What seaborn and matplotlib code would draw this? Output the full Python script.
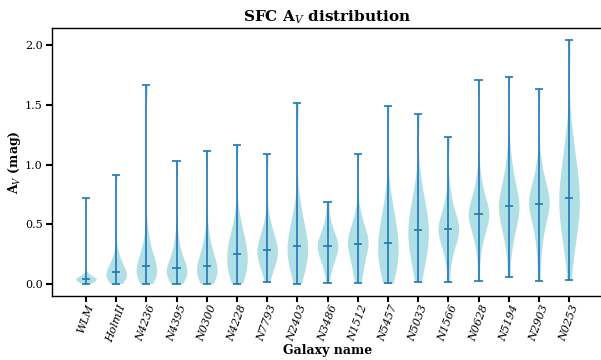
import numpy as np
import pandas as pd
import matplotlib
matplotlib.use("Agg")
import matplotlib.pyplot as plt
import seaborn as sns

# Galaxies, ordered by median extinction
galaxies = ["WLM", "HolmII", "N4236", "N4395", "N0300", "N4228", "N7793", "N2403",
            "N3486", "N1512", "N5457", "N5033", "N1566", "N0628", "N5194", "N2903", "N0253"]

# A_V of the star-forming clumps in each galaxy (min, 5%..95% quantiles, max)
av_wlm = [0.0, 0.006, 0.011, 0.016, 0.020, 0.024, 0.028, 0.031, 0.034, 0.037, 0.039,
          0.042, 0.045, 0.049, 0.053, 0.057, 0.062, 0.068, 0.075, 0.09, 0.719]
av_holmii = [0.0, 0.015, 0.025, 0.035, 0.045, 0.053, 0.06, 0.068, 0.077, 0.087, 0.098,
             0.108, 0.12, 0.132, 0.146, 0.162, 0.18, 0.2, 0.23, 0.28, 0.912]
av_n4236 = [0.0, 0.02, 0.035, 0.05, 0.063, 0.075, 0.088, 0.10, 0.115, 0.13, 0.148,
            0.165, 0.183, 0.20, 0.22, 0.245, 0.275, 0.31, 0.36, 0.45, 1.664]
av_n4395 = [0.0, 0.02, 0.035, 0.048, 0.06, 0.072, 0.084, 0.096, 0.108, 0.12, 0.134,
            0.148, 0.163, 0.18, 0.20, 0.225, 0.255, 0.29, 0.34, 0.43, 1.026]
av_n0300 = [0.0, 0.02, 0.035, 0.05, 0.064, 0.077, 0.09, 0.104, 0.119, 0.135, 0.151,
            0.168, 0.186, 0.205, 0.228, 0.255, 0.285, 0.32, 0.37, 0.46, 1.110]
av_n4228 = [0.0, 0.03, 0.055, 0.08, 0.105, 0.13, 0.155, 0.18, 0.205, 0.225, 0.246,
            0.268, 0.29, 0.315, 0.34, 0.37, 0.405, 0.445, 0.50, 0.58, 1.161]
av_n7793 = [0.011, 0.08, 0.12, 0.15, 0.175, 0.197, 0.217, 0.235, 0.25, 0.266, 0.283,
            0.30, 0.318, 0.337, 0.358, 0.382, 0.41, 0.445, 0.49, 0.56, 1.088]
av_n2403 = [0.0, 0.06, 0.10, 0.135, 0.165, 0.195, 0.222, 0.248, 0.272, 0.295, 0.319,
            0.343, 0.368, 0.395, 0.425, 0.46, 0.50, 0.55, 0.61, 0.70, 1.516]
av_n3486 = [0.006, 0.10, 0.145, 0.18, 0.208, 0.232, 0.253, 0.272, 0.288, 0.30, 0.313,
            0.326, 0.34, 0.356, 0.374, 0.395, 0.42, 0.45, 0.49, 0.55, 0.686]
av_n1512 = [0.008, 0.06, 0.10, 0.14, 0.18, 0.22, 0.255, 0.28, 0.30, 0.318, 0.336,
            0.352, 0.368, 0.385, 0.405, 0.428, 0.455, 0.49, 0.54, 0.62, 1.091]
av_n5457 = [0.003, 0.05, 0.09, 0.125, 0.16, 0.19, 0.22, 0.25, 0.28, 0.31, 0.338,
            0.367, 0.397, 0.43, 0.465, 0.505, 0.55, 0.60, 0.67, 0.78, 1.488]
av_n5033 = [0.014, 0.10, 0.16, 0.21, 0.25, 0.29, 0.325, 0.36, 0.392, 0.42, 0.447,
            0.475, 0.505, 0.537, 0.572, 0.61, 0.655, 0.71, 0.78, 0.88, 1.421]
av_n1566 = [0.011, 0.17, 0.24, 0.29, 0.33, 0.36, 0.385, 0.408, 0.425, 0.442, 0.459,
            0.476, 0.494, 0.514, 0.536, 0.562, 0.594, 0.635, 0.69, 0.78, 1.228]
av_n0628 = [0.022, 0.25, 0.34, 0.40, 0.44, 0.475, 0.505, 0.53, 0.552, 0.567, 0.582,
            0.598, 0.615, 0.635, 0.66, 0.69, 0.725, 0.77, 0.83, 0.93, 1.706]
av_n5194 = [0.053, 0.28, 0.37, 0.43, 0.48, 0.52, 0.555, 0.587, 0.612, 0.632, 0.652,
            0.673, 0.697, 0.725, 0.757, 0.795, 0.84, 0.90, 0.98, 1.10, 1.732]
av_n2903 = [0.025, 0.23, 0.34, 0.42, 0.48, 0.53, 0.57, 0.605, 0.63, 0.65, 0.669,
            0.688, 0.708, 0.73, 0.755, 0.785, 0.82, 0.865, 0.93, 1.03, 1.634]
av_n0253 = [0.028, 0.24, 0.33, 0.40, 0.46, 0.51, 0.56, 0.60, 0.64, 0.68, 0.716,
            0.755, 0.795, 0.84, 0.89, 0.945, 1.01, 1.08, 1.17, 1.30, 2.042]

av_values = [av_wlm, av_holmii, av_n4236, av_n4395, av_n0300, av_n4228, av_n7793,
             av_n2403, av_n3486, av_n1512, av_n5457, av_n5033, av_n1566, av_n0628,
             av_n5194, av_n2903, av_n0253]

df = pd.DataFrame({
    "galaxy": np.repeat(galaxies, [len(v) for v in av_values]),
    "av": np.concatenate(av_values),
})

fill_color = "#b0dfe5"
line_color = "#1f77b4"


def robust_bw(kde):
    """Silverman's rule with the IQR guard, so the long tails do not inflate the kernel."""
    d = np.asarray(kde.dataset).ravel()
    std = d.std(ddof=1)
    q75, q25 = np.percentile(d, [75, 25])
    sigma = min(std, (q75 - q25) / 1.349)
    return 0.9 * sigma * len(d) ** (-0.2) / std


sns.set_style("ticks")
plt.rcParams["font.family"] = ["DejaVu Serif"]
plt.rcParams["mathtext.fontset"] = "dejavuserif"
for key in ("text.color", "axes.labelcolor", "xtick.color", "ytick.color", "axes.edgecolor"):
    plt.rcParams[key] = "black"

fig = plt.figure(figsize=(6.01, 3.60), dpi=100)
ax = fig.add_axes([0.087, 0.1786, 0.916, 0.7428])

sns.violinplot(data=df, x="galaxy", y="av", order=galaxies, ax=ax,
               inner=None, cut=0, density_norm="width", width=0.68,
               bw_method=robust_bw, bw_adjust=1.25,
               color=fill_color, saturation=1, linewidth=0)

# extrema and median markers
pos = np.arange(len(galaxies))
mins = np.array([np.min(v) for v in av_values])
maxs = np.array([np.max(v) for v in av_values])
meds = np.array([np.median(v) for v in av_values])
cap = 0.135
lw = 1.2
ax.vlines(pos, mins, maxs, color=line_color, lw=lw)
for y in (mins, maxs, meds):
    ax.hlines(y, pos - cap, pos + cap, color=line_color, lw=lw)

ax.set_xlim(-1.116, 17.116)
ax.set_ylim(-0.102, 2.144)
ax.set_yticks([0.0, 0.5, 1.0, 1.5, 2.0])
ax.set_yticklabels(["0.0", "0.5", "1.0", "1.5", "2.0"], fontsize=8)
ax.set_xticks(pos)
ax.set_xticklabels(galaxies, rotation=70, ha="center", fontsize=8, style="italic")
ax.tick_params(axis="both", direction="out", length=4, width=1.5, color="black", pad=3)
ax.tick_params(axis="x", pad=1.5)

for side in ("left", "top", "bottom"):
    ax.spines[side].set_visible(True)
    ax.spines[side].set_color("black")
    ax.spines[side].set_linewidth(1.0)
ax.spines["right"].set_visible(False)

ax.set_title(r"SFC A$_V$ distribution", fontsize=11, fontweight="bold", pad=5)
ax.set_ylabel(r"A$_V$ (mag)", fontsize=9, fontweight="bold", labelpad=1)
ax.set_xlabel("Galaxy name", fontsize=9, fontweight="bold", labelpad=0)

fig.savefig("out.png", dpi=100)
